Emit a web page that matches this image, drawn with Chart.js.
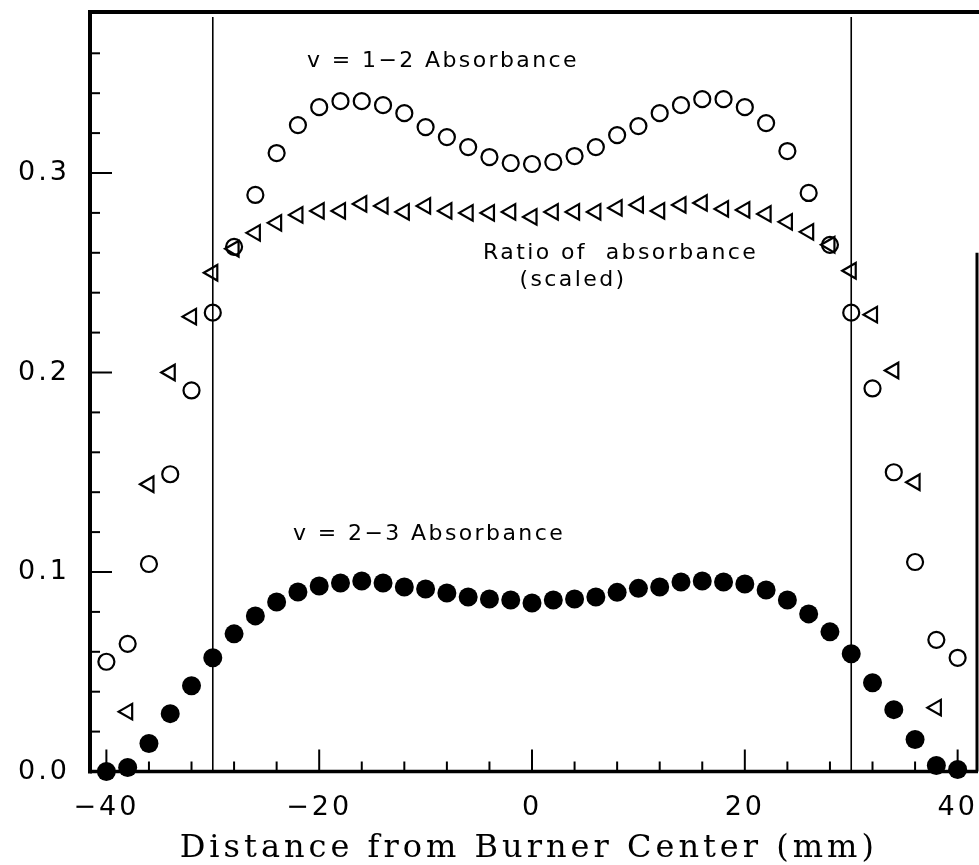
<!DOCTYPE html>
<html>
<head>
<meta charset="utf-8">
<script src="https://cdn.jsdelivr.net/npm/chart.js@4.4.1/dist/chart.umd.min.js"></script>
<style>
  html, body { margin: 0; padding: 0; background: #ffffff; }
  #wrap { width: 979px; height: 865px; }
</style>
</head>
<body>
<div id="wrap"><canvas id="c" width="979" height="865"></canvas></div>
<script>
// ---------------- data ----------------
const positions = [-40, -38, -36, -34, -32, -30, -28, -26, -24, -22, -20, -18, -16, -14, -12, -10, -8, -6, -4, -2,
                   0, 2, 4, 6, 8, 10, 12, 14, 16, 18, 20, 22, 24, 26, 28, 30, 32, 34, 36, 38, 40];

// v = 1-2 absorbance (open circles)
const absorbance12 = [0.055, 0.064, 0.104, 0.149, 0.191, 0.230, 0.263, 0.289, 0.310, 0.324, 0.333, 0.336, 0.336, 0.334,
                      0.330, 0.323, 0.318, 0.313, 0.308, 0.305, 0.3045, 0.3055, 0.3085, 0.313, 0.319, 0.3235, 0.330,
                      0.334, 0.337, 0.337, 0.333, 0.325, 0.311, 0.290, 0.264, 0.230, 0.192, 0.150, 0.105, 0.066, 0.057];

// ratio of absorbance, scaled (open left-pointing triangles)
const ratioScaled = [null, 0.030, 0.144, 0.200, 0.228, 0.250, 0.262, 0.270, 0.275, 0.279, 0.281, 0.281, 0.2845, 0.2835,
                     0.2805, 0.2835, 0.281, 0.280, 0.280, 0.2805, 0.278, 0.2805, 0.2805, 0.2805, 0.2825, 0.284, 0.281,
                     0.284, 0.285, 0.282, 0.2815, 0.2795, 0.2755, 0.2705, 0.264, 0.251, 0.229, 0.201, 0.145, 0.032, null];

// v = 2-3 absorbance (filled circles)
const absorbance23 = [0.000, 0.002, 0.014, 0.029, 0.043, 0.057, 0.069, 0.078, 0.085, 0.090, 0.093, 0.0945, 0.0955, 0.0945,
                      0.0925, 0.0915, 0.0895, 0.0875, 0.0865, 0.086, 0.0845, 0.086, 0.0865, 0.0875, 0.0898, 0.0918, 0.0925,
                      0.095, 0.0955, 0.095, 0.094, 0.091, 0.086, 0.079, 0.070, 0.059, 0.0445, 0.031, 0.016, 0.003, 0.001];

const xTickValues = [-40, -20, 0, 20, 40];
const xTickLabels = ['\u221240', '\u221220', '0', '20', '40'];
const yTickValues = [0, 0.1, 0.2, 0.3];
const yTickLabels = ['0.0', '0.1', '0.2', '0.3'];
const xMinorTicks = [-40, -36, -32, -28, -24, -20, -16, -12, -8, -4, 0, 4, 8, 12, 16, 20, 24, 28, 32, 36, 40];
const yMinorTicks = [0.02, 0.04, 0.06, 0.08, 0.10, 0.12, 0.14, 0.16, 0.18, 0.20, 0.22, 0.24, 0.26, 0.28, 0.30,
                     0.32, 0.34, 0.36];
const boundaryLines = [-30, 30];
const xTitle = 'Distance from Burner Center (mm)';

const annotationTexts = ['v = 1\u22122 Absorbance', 'Ratio of  absorbance', '(scaled)', 'v = 2\u22123 Absorbance'];
const annotationAnchors = [[-21.15, 0.3531, 'left'], [-4.6, 0.2569, 'left'], [3.85, 0.2434, 'center'], [-22.46, 0.1160, 'left']];

// ---------------- chart ----------------
function toPoints(ys) {
  return positions.map((x, i) => ({ x: x, y: ys[i] }));
}

function noPad(s) {
  s.paddingTop = 0; s.paddingBottom = 0; s.paddingLeft = 0; s.paddingRight = 0;
}

const decorPlugin = {
  id: 'decor',
  beforeDraw(chart) {
    chart.ctx.letterSpacing = '3px';
  },
  beforeDatasetsDraw(chart) {
    const ctx = chart.ctx;
    const xs = chart.scales.x, ys = chart.scales.y;
    const { left, right, top, bottom } = chart.chartArea;
    ctx.save();
    ctx.strokeStyle = '#000';
    ctx.lineCap = 'butt';
    // frame
    ctx.lineWidth = 4;
    ctx.beginPath(); ctx.moveTo(left, top - 2); ctx.lineTo(left, bottom + 2); ctx.stroke();
    ctx.beginPath(); ctx.moveTo(left - 2, top); ctx.lineTo(right + 2, top); ctx.stroke();
    ctx.lineWidth = 3.5;
    ctx.beginPath(); ctx.moveTo(left, bottom); ctx.lineTo(right + 1, bottom); ctx.stroke();
    ctx.lineWidth = 3;
    ctx.beginPath(); ctx.moveTo(right, bottom); ctx.lineTo(right, ys.getPixelForValue(0.26)); ctx.stroke();
    // x ticks (inward)
    ctx.lineWidth = 2;
    xMinorTicks.forEach(v => {
      const px = xs.getPixelForValue(v);
      const len = xTickValues.includes(v) ? 22 : 10;
      ctx.beginPath(); ctx.moveTo(px, bottom); ctx.lineTo(px, bottom - len); ctx.stroke();
    });
    // y ticks (inward)
    yMinorTicks.forEach(v => {
      const py = ys.getPixelForValue(v);
      const major = yTickValues.some(t => Math.abs(t - v) < 1e-9);
      const len = major ? 22 : 10;
      ctx.beginPath(); ctx.moveTo(left, py); ctx.lineTo(left + len, py); ctx.stroke();
    });
    // burner boundary lines
    ctx.lineWidth = 1.6;
    boundaryLines.forEach(v => {
      const px = xs.getPixelForValue(v);
      ctx.beginPath(); ctx.moveTo(px, top + 5); ctx.lineTo(px, bottom); ctx.stroke();
    });
    ctx.restore();
  },
  afterDraw(chart) {
    const ctx = chart.ctx;
    const xs = chart.scales.x, ys = chart.scales.y;
    ctx.save();
    ctx.fillStyle = '#000';
    ctx.textBaseline = 'alphabetic';
    ctx.font = '22px "DejaVu Sans"';
    ctx.letterSpacing = '2.4px';
    annotationTexts.forEach((t, i) => {
      const a = annotationAnchors[i];
      ctx.textAlign = a[2];
      ctx.fillText(t, xs.getPixelForValue(a[0]), ys.getPixelForValue(a[1]));
    });
    // axis title
    ctx.font = '32px "DejaVu Serif"';
    ctx.letterSpacing = '4px';
    ctx.textAlign = 'center';
    ctx.fillText(xTitle, xs.getPixelForValue(-0.3), 857);
    ctx.restore();
  }
};

const chart = new Chart(document.getElementById('c'), {
  type: 'scatter',
  data: {
    datasets: [
      {
        label: 'v = 2-3 Absorbance',
        data: toPoints(absorbance23),
        pointStyle: 'circle',
        pointRadius: 9.5,
        backgroundColor: '#000',
        borderColor: '#000',
        borderWidth: 0,
        clip: false
      },
      {
        label: 'Ratio of absorbance (scaled)',
        data: toPoints(ratioScaled),
        pointStyle: 'triangle',
        rotation: -90,
        pointRadius: 9,
        backgroundColor: 'rgba(0,0,0,0)',
        borderColor: '#000',
        borderWidth: 2.2,
        clip: false
      },
      {
        label: 'v = 1-2 Absorbance',
        data: toPoints(absorbance12),
        pointStyle: 'circle',
        pointRadius: 8,
        backgroundColor: 'rgba(0,0,0,0)',
        borderColor: '#000',
        borderWidth: 2.2,
        clip: false
      }
    ]
  },
  options: {
    responsive: false,
    animation: false,
    devicePixelRatio: 1,
    layout: { autoPadding: false, padding: { top: 12, right: 2, left: 0, bottom: 0 } },
    plugins: { legend: { display: false }, tooltip: { enabled: false } },
    scales: {
      x: {
        type: 'linear',
        min: -41.54,
        max: 41.82,
        grid: { display: false, drawTicks: false },
        border: { display: false },
        afterBuildTicks: (s) => { s.ticks = xTickValues.map(v => ({ value: v })); },
        afterFit: (s) => { s.height = 93.5; noPad(s); },
        ticks: {
          color: '#000',
          padding: 20,
          maxRotation: 0,
          autoSkip: false,
          font: { family: '"DejaVu Sans"', size: 27 },
          callback: (v) => xTickLabels[xTickValues.indexOf(v)]
        }
      },
      y: {
        type: 'linear',
        min: 0,
        max: 0.3807,
        grid: { display: false, drawTicks: false },
        border: { display: false },
        afterBuildTicks: (s) => { s.ticks = yTickValues.map(v => ({ value: v })); },
        afterFit: (s) => { s.width = 90; noPad(s); },
        ticks: {
          color: '#000',
          padding: 20,
          font: { family: '"DejaVu Sans"', size: 27 },
          callback: (v) => yTickLabels[yTickValues.findIndex(t => Math.abs(t - v) < 1e-9)]
        }
      }
    }
  },
  plugins: [decorPlugin]
});
</script>
</body>
</html>
